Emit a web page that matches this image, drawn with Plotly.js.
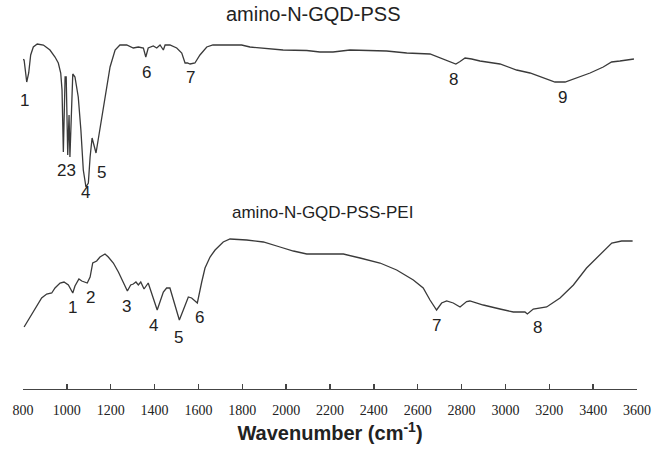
<!DOCTYPE html>
<html>
<head>
<meta charset="utf-8">
<script src="https://cdn.plot.ly/plotly-3.0.1.min.js"></script>
<style>html,body{margin:0;padding:0;background:#fff;}#chart{width:654px;height:455px;}</style>
</head>
<body>
<div id="chart"></div>
<script>
// Spectrum 1: amino-N-GQD-PSS (offset transmittance, arbitrary units)
const pssWavenumber = [795,805,817,826,835,847,865,893,923,946,961,972,978,984,992,997,1004,1010,1014,1027,1037,1052,1064,1075,1087,1098,1106,1115,1133,1151,1166,1182,1197,1220,1242,1273,1303,1326,1349,1360,1371,1394,1410,1425,1440,1448,1470,1501,1524,1539,1550,1562,1584,1607,1638,1666,1698,1797,1835,1986,2094,2154,2214,2291,2458,2550,2656,2702,2732,2774,2793,2816,2846,2884,2975,3051,3112,3173,3226,3272,3325,3386,3446,3484,3522,3586];
const pssSignal = [330,329,307,316,334,342,345,344,339,332,326,316,299,237,312,312,234,274,232,315,312,292,259,219,202,206,232,251,236,259,282,299,322,339,344,344,341,342,341,332,341,343,341,344,339,344,344,341,336,326,326,325,326,334,342,344,344,344,342,339,338.5,337,337,339,338,336,335,331,328,325,327.5,331,330,328,325,319,316,311,307,307,311,316,322,327,328,330];

// Spectrum 2: amino-N-GQD-PSS-PEI
const peiWavenumber = [805,832,855,885,908,931,946,969,987,1007,1027,1037,1055,1068,1093,1106,1118,1136,1151,1174,1189,1212,1235,1257,1276,1291,1303,1315,1326,1337,1352,1371,1391,1412,1440,1455,1470,1489,1513,1531,1554,1569,1595,1615,1630,1653,1676,1713,1744,1820,1896,1972,2033,2094,2200,2261,2337,2428,2504,2580,2625,2656,2686,2709,2732,2762,2793,2823,2838,2899,2975,3036,3089,3100,3127,3188,3249,3310,3370,3431,3485,3530,3580];
const peiSignal = [62,72,81,91,95,96,101,106,107,104,96,103,110,108,106,112,126,128,132,135,132,126,117,106,98,104,105,107,104,107,100,106,92,79,97,101,101,86,69,79,92,91,86,107,121,132,139,147,150,149,147,142,138,135,135,135,131,126,119,109,101,89,79,86,88,86,82,87.5,88,84,80,77,77,75,80,82,91,104,121,134,146,148,148];

// Spectrum titles and peak numbering
const seriesNames = ["amino-N-GQD-PSS", "amino-N-GQD-PSS-PEI"];
const pssPeakLabels = ["1","23","4","5","6","7","8","9"];
const pssPeakWavenumber = [805,999,1087,1156,1365,1566,2761,3258];
const pssPeakLabelLevel = [289,219,197,217,317,312,310,292];
const peiPeakLabels = ["1","2","3","4","5","6","7","8"];
const peiPeakWavenumber = [1027,1106,1273,1397,1508,1607,2686,3145];
const peiPeakLabelLevel = [82,92,83,64,52,72,64,62];
const titleWavenumber = [2122, 2168];
const titleLevel = [375, 177];
const titleSize = [20, 17];

const xTicks = [800,1000,1200,1400,1600,1800,2000,2200,2400,2600,2800,3000,3200,3400,3600];

const lineStyle = {color: '#3a3a3a', width: 1.3};
const traces = [
  {x: pssWavenumber, y: pssSignal, type: 'scatter', mode: 'lines', line: lineStyle, name: seriesNames[0], hoverinfo: 'skip'},
  {x: peiWavenumber, y: peiSignal, type: 'scatter', mode: 'lines', line: lineStyle, name: seriesNames[1], hoverinfo: 'skip'}
];

const numFont = {family: 'Liberation Sans, Arial, sans-serif', size: 17, color: '#222'};
const annotations = [];
pssPeakLabels.forEach((t, i) => annotations.push({x: pssPeakWavenumber[i], y: pssPeakLabelLevel[i], xref: 'x', yref: 'y', text: t, showarrow: false, font: numFont}));
peiPeakLabels.forEach((t, i) => annotations.push({x: peiPeakWavenumber[i], y: peiPeakLabelLevel[i], xref: 'x', yref: 'y', text: t, showarrow: false, font: numFont}));
seriesNames.forEach((t, i) => annotations.push({x: titleWavenumber[i], y: titleLevel[i], xref: 'x', yref: 'y', text: t, showarrow: false,
  font: {family: 'Liberation Sans, Arial, sans-serif', size: titleSize[i], color: '#222'}}));

const layout = {
  width: 654, height: 455,
  margin: {l: 23, r: 17, t: 0, b: 66},
  paper_bgcolor: '#fff', plot_bgcolor: '#fff',
  showlegend: false,
  xaxis: {
    range: [800, 3600], tickvals: xTicks, ticktext: xTicks.map(String),
    showgrid: false, zeroline: false, showline: true, linecolor: '#444', linewidth: 1.3,
    ticks: 'inside', ticklen: 5, tickcolor: '#444', tickwidth: 1.3,
    ticklabelstandoff: 8,
    tickfont: {family: 'Liberation Serif, Times New Roman, serif', size: 14, color: '#222'},
    title: {text: '<b>Wavenumber (cm<sup>-1</sup>)</b>', standoff: 9,
      font: {family: 'Liberation Sans, Arial, sans-serif', size: 20, color: '#222'}}
  },
  yaxis: {range: [0, 389], visible: false, showgrid: false, zeroline: false},
  annotations: annotations
};

Plotly.newPlot('chart', traces, layout, {staticPlot: true, displayModeBar: false});
</script>
</body>
</html>
